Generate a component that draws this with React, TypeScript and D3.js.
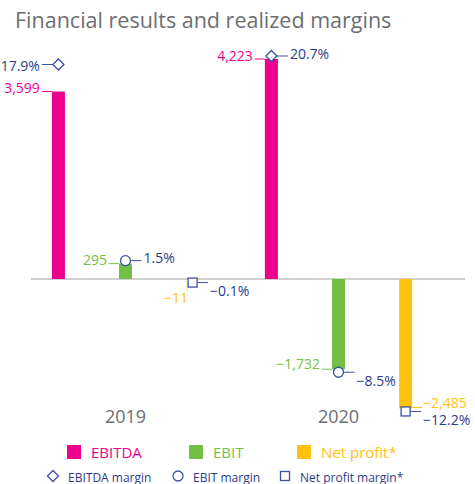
import React from 'react';
import * as d3 from 'd3';

const years = ['2019', '2020'];
const metrics = ['EBITDA', 'EBIT', 'Net profit*'];
const marginNames = ['EBITDA margin', 'EBIT margin', 'Net profit margin*'];
const ebitda = [3599, 4223];
const ebit = [295, -1732];
const netProfit = [-11, -2485];
const ebitdaMargin = [17.9, 20.7];
const ebitMargin = [1.5, -8.5];
const netProfitMargin = [-0.1, -12.2];
// label placement per year per metric
const valueLabelSide = [['left', 'left', 'below'], ['left', 'left', 'right']];
const marginLabelSide = [['left', 'right', 'right'], ['right', 'right', 'right']];

const colors = ['#ec008c', '#72bf44', '#ffc20e'];
const navy = '#2e3a87';
const markerStroke = '#3d4fa3';
const gray = '#6d6e71';
const FONT = '"Open Sans", sans-serif';

const W = 475;
const H = 484;

function Marker({ type, cx, cy }: { type: number; cx: number; cy: number }) {
  if (type === 0) {
    const s = 5.5;
    return (
      <path
        d={`M${cx},${cy - s}L${cx + s},${cy}L${cx},${cy + s}L${cx - s},${cy}Z`}
        fill="#fff"
        stroke={markerStroke}
        strokeWidth={1.3}
      />
    );
  }
  if (type === 1) {
    return <circle cx={cx} cy={cy} r={5} fill="#fff" stroke={markerStroke} strokeWidth={1.3} />;
  }
  return <rect x={cx - 4.5} y={cy - 4.5} width={9} height={9} fill="#fff" stroke={markerStroke} strokeWidth={1.3} />;
}

export default function App() {
  const values = [ebitda, ebit, netProfit];
  const margins = [ebitdaMargin, ebitMargin, netProfitMargin];
  const markerHalf = [5.5, 5, 4.5];

  const x0 = d3.scaleBand<string>().domain(years).range([19, 445]).padding(0);
  const x1 = d3
    .scaleBand<string>()
    .domain(metrics)
    .range([0, x0.bandwidth()])
    .paddingInner(0.806)
    .paddingOuter(0.49);
  const k = 220 / 4223;
  const y = d3.scaleLinear().domain([-3000, 5000]).range([279 + 3000 * k, 279 - 5000 * k]);
  const y0 = y(0);
  const fmtV = d3.format(',');
  const fmtP = (v: number) => d3.format('.1f')(v) + '%';

  const marks: React.ReactNode[] = [];
  years.forEach((yr, yi) => {
    metrics.forEach((m, mi) => {
      const v = values[mi][yi];
      const bx = (x0(yr) as number) + (x1(m) as number);
      const bw = x1.bandwidth();
      const yv = y(v);
      marks.push(
        <rect
          key={`bar-${yi}-${mi}`}
          x={bx}
          y={Math.min(yv, y0)}
          width={bw}
          height={Math.max(Math.abs(yv - y0), 0.5)}
          fill={colors[mi]}
        />
      );
      const side = valueLabelSide[yi][mi];
      const col = colors[mi];
      if (side === 'left') {
        marks.push(
          <line key={`vl-${yi}-${mi}`} x1={bx - 10} x2={bx} y1={yv} y2={yv} stroke={col} strokeWidth={1} />,
          <text
            key={`vt-${yi}-${mi}`}
            x={bx - 12}
            y={yv + (v >= 0 ? -4 : -6)}
            textAnchor="end"
            dominantBaseline="central"
            fill={col}
            fontSize={14}
          >
            {fmtV(v)}
          </text>
        );
      } else if (side === 'right') {
        marks.push(
          <line key={`vl-${yi}-${mi}`} x1={bx + bw} x2={bx + bw + 10} y1={yv - 1} y2={yv - 1} stroke={col} strokeWidth={1} />,
          <text
            key={`vt-${yi}-${mi}`}
            x={bx + bw + 11}
            y={yv - 6}
            textAnchor="start"
            dominantBaseline="central"
            fill={col}
            fontSize={14}
          >
            {fmtV(v)}
          </text>
        );
      } else {
        marks.push(
          <line
            key={`vl-${yi}-${mi}`}
            x1={bx + 1}
            x2={bx + 1}
            y1={y0}
            y2={y0 + 13}
            stroke={col}
            strokeWidth={1}
            strokeDasharray="1,1.5"
          />,
          <text
            key={`vt-${yi}-${mi}`}
            x={bx + 2}
            y={y0 + 18}
            textAnchor="end"
            dominantBaseline="central"
            fill={col}
            fontSize={14}
          >
            {fmtV(v)}
          </text>
        );
      }
    });
  });

  years.forEach((yr, yi) => {
    metrics.forEach((m, mi) => {
      const v = values[mi][yi];
      const pm = margins[mi][yi];
      const bx = (x0(yr) as number) + (x1(m) as number);
      const cx = bx + x1.bandwidth() / 2;
      const side = marginLabelSide[yi][mi];
      const hw = markerHalf[mi];
      let my = y(v) + (v >= 0 ? -3 : 3);
      if (side === 'left') my = y(v) - 27; // lifted to avoid the value label
      if (side === 'left') {
        marks.push(
          <line key={`ml-${yi}-${mi}`} x1={cx - hw - 11} x2={cx - hw} y1={my} y2={my} stroke={markerStroke} strokeWidth={1} />,
          <text
            key={`mt-${yi}-${mi}`}
            x={cx - hw - 13}
            y={my + 1}
            textAnchor="end"
            dominantBaseline="central"
            fill={navy}
            fontSize={14}
          >
            {fmtP(pm)}
          </text>
        );
      } else {
        marks.push(
          <line key={`ml-${yi}-${mi}`} x1={cx + hw} x2={cx + hw + 11} y1={my} y2={my} stroke={markerStroke} strokeWidth={1} />,
          <text
            key={`mt-${yi}-${mi}`}
            x={cx + hw + 13}
            y={my + (pm >= 0 ? -3 : 8)}
            textAnchor="start"
            dominantBaseline="central"
            fill={navy}
            fontSize={14}
          >
            {fmtP(pm)}
          </text>
        );
      }
      marks.push(<Marker key={`mk-${yi}-${mi}`} type={mi} cx={cx} cy={my} />);
    });
  });

  const legendX = [67, 189, 297];
  const legend2X = [53, 178, 285];

  return (
    <svg width={W} height={H} style={{ position: 'absolute', left: 0, top: 0 }} fontFamily={FONT}>
      <rect width={W} height={H} fill="#fff" />
      <text x={15} y={28} fontSize={21.5} fill={gray} fontWeight={400}>
        Financial results and realized margins
      </text>
      <line x1={31} x2={465} y1={y0} y2={y0} stroke="#a0a0a0" strokeWidth={1.2} />
      {marks}
      {years.map((yr) => (
        <text
          key={yr}
          x={(x0(yr) as number) + x0.bandwidth() / 2}
          y={416}
          textAnchor="middle"
          dominantBaseline="central"
          fontSize={18}
          fill={gray}
        >
          {yr}
        </text>
      ))}
      {metrics.map((m, i) => (
        <g key={m}>
          <rect x={legendX[i]} y={445} width={14} height={14} fill={colors[i]} />
          <text x={legendX[i] + 24} y={452} dominantBaseline="central" fontSize={15} fill={colors[i]}>
            {m}
          </text>
        </g>
      ))}
      {marginNames.map((m, i) => (
        <g key={m}>
          <Marker type={i} cx={legend2X[i]} cy={476} />
          <text x={legend2X[i] + 15} y={477} dominantBaseline="central" fontSize={12} fill={navy}>
            {m}
          </text>
        </g>
      ))}
    </svg>
  );
}
